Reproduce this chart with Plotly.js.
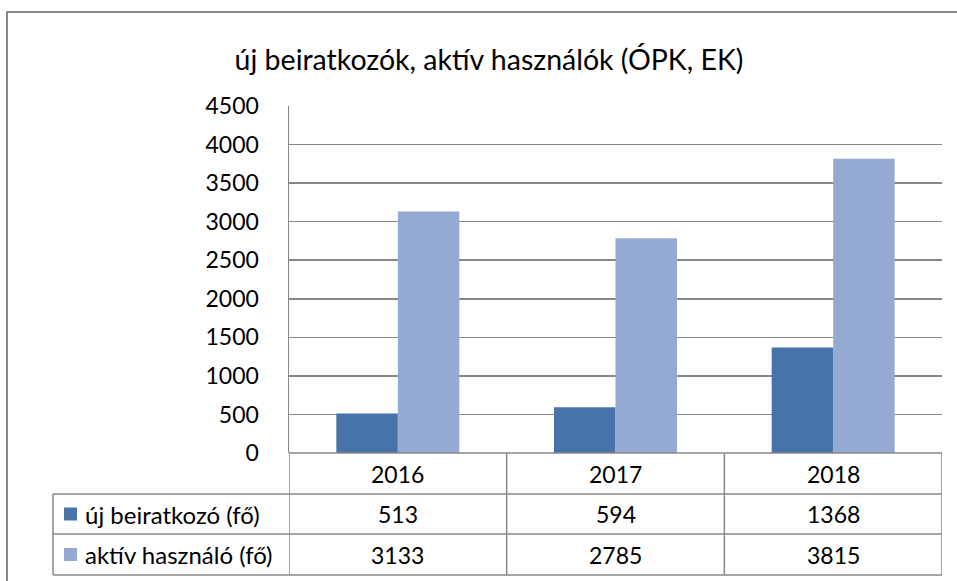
<!DOCTYPE html>
<html>
<head>
<meta charset="utf-8">
<script src="https://cdn.plot.ly/plotly-3.0.1.min.js"></script>
<style>html,body{margin:0;padding:0;background:#fff;}#chart{width:957px;height:581px;}</style>
</head>
<body>
<div id="chart"></div>
<script>
const categories = ['2016', '2017', '2018'];
const seriesNames = ['új beiratkozó (fő)', 'aktív használó (fő)'];
const newEnrolled = [513, 594, 1368];
const activeUsers = [3133, 2785, 3815];
const yTicks = [0, 500, 1000, 1500, 2000, 2500, 3000, 3500, 4000, 4500];
const colors = ['#4673A9', '#95AAD2'];
const seriesValues = [newEnrolled, activeUsers];

const W = 957, H = 581;
const L = 289, R = 942, T = 106, B = 453;
const px = p => (p - L) / (R - L);
const py = p => (B - p) / (B - T);
const FONT = 'Lato, "Open Sans", sans-serif';
const gridColor = '#888888';

const traces = seriesValues.map((vals, i) => ({
  type: 'bar',
  x: categories,
  y: vals,
  name: seriesNames[i],
  marker: {color: colors[i], line: {width: 0}},
  hoverinfo: 'x+y+name',
  showlegend: false
}));

const shapes = [];
const annotations = [];
const line = (x0, y0, x1, y1, w) => shapes.push({
  type: 'line', xref: 'paper', yref: 'paper',
  x0, y0, x1, y1, line: {color: gridColor, width: w || 1.5}, layer: 'above'
});

// outer chart border: only left and top sides are inside the picture
line(px(7), py(12), px(7), py(585), 2);
line(px(6), py(12), px(960), py(12), 2);

// table rows
const rowTops = [453, 494, 534, 575];
line(0, py(rowTops[0]), 1, py(rowTops[0]));
for (let r = 1; r < rowTops.length; r++) line(px(53), py(rowTops[r]), 1, py(rowTops[r]));
// table columns
line(px(53), py(494), px(53), py(575));
for (let c = 0; c <= categories.length; c++) {
  shapes.push({type: 'line', xref: 'x', yref: 'paper', x0: c - 0.5, x1: c - 0.5,
    y0: py(453), y1: py(575), line: {color: gridColor, width: 1.5}, layer: 'above'});
}

const tfont = {family: FONT, size: 23, color: '#000'};
// header row: categories
categories.forEach((c, i) => annotations.push({
  xref: 'x', yref: 'paper', x: i, y: py((rowTops[0] + rowTops[1]) / 2),
  text: c, showarrow: false, font: tfont, xanchor: 'center', yanchor: 'middle'
}));
// data rows
seriesValues.forEach((vals, s) => {
  const yc = py((rowTops[s + 1] + rowTops[s + 2]) / 2);
  vals.forEach((v, i) => annotations.push({
    xref: 'x', yref: 'paper', x: i, y: yc, text: String(v), showarrow: false,
    font: tfont, xanchor: 'center', yanchor: 'middle'
  }));
  shapes.push({type: 'rect', xref: 'paper', yref: 'paper',
    x0: px(64), x1: px(77), y0: yc - 6.5 / (B - T), y1: yc + 6.5 / (B - T),
    fillcolor: colors[s], line: {width: 0}, layer: 'above'});
  annotations.push({xref: 'paper', yref: 'paper', x: px(83), y: yc,
    text: seriesNames[s], showarrow: false, font: {family: FONT, size: 24, color: '#000'},
    xanchor: 'left', yanchor: 'middle'});
});

const layout = {
  width: W, height: H,
  margin: {l: L, r: W - R, t: T, b: H - B, pad: 0},
  paper_bgcolor: '#fff', plot_bgcolor: '#fff',
  title: {text: 'új beiratkozók, aktív használók (ÓPK, EK)', font: {family: FONT, size: 28.5, color: '#000'},
    xref: 'paper', x: px(489), xanchor: 'center', yref: 'container', y: 1 - 60 / H, yanchor: 'middle'},
  font: {family: FONT, color: '#000'},
  barmode: 'group', bargap: 0.435, bargroupgap: 0,
  xaxis: {type: 'category', range: [-0.5, 2.5], showticklabels: false, showgrid: false,
    zeroline: false, showline: false, ticks: '', fixedrange: true},
  yaxis: {range: [0, 4500], tickvals: yTicks, ticktext: yTicks.map(String),
    showgrid: true, gridcolor: gridColor, gridwidth: 1.5, zeroline: false,
    showline: true, linecolor: gridColor, linewidth: 1.5, ticks: '',
    tickfont: {family: FONT, size: 23, color: '#000'}, ticklabelstandoff: 24, fixedrange: true},
  shapes, annotations
};

Plotly.newPlot('chart', traces, layout, {displayModeBar: false, staticPlot: true});
</script>
</body>
</html>
